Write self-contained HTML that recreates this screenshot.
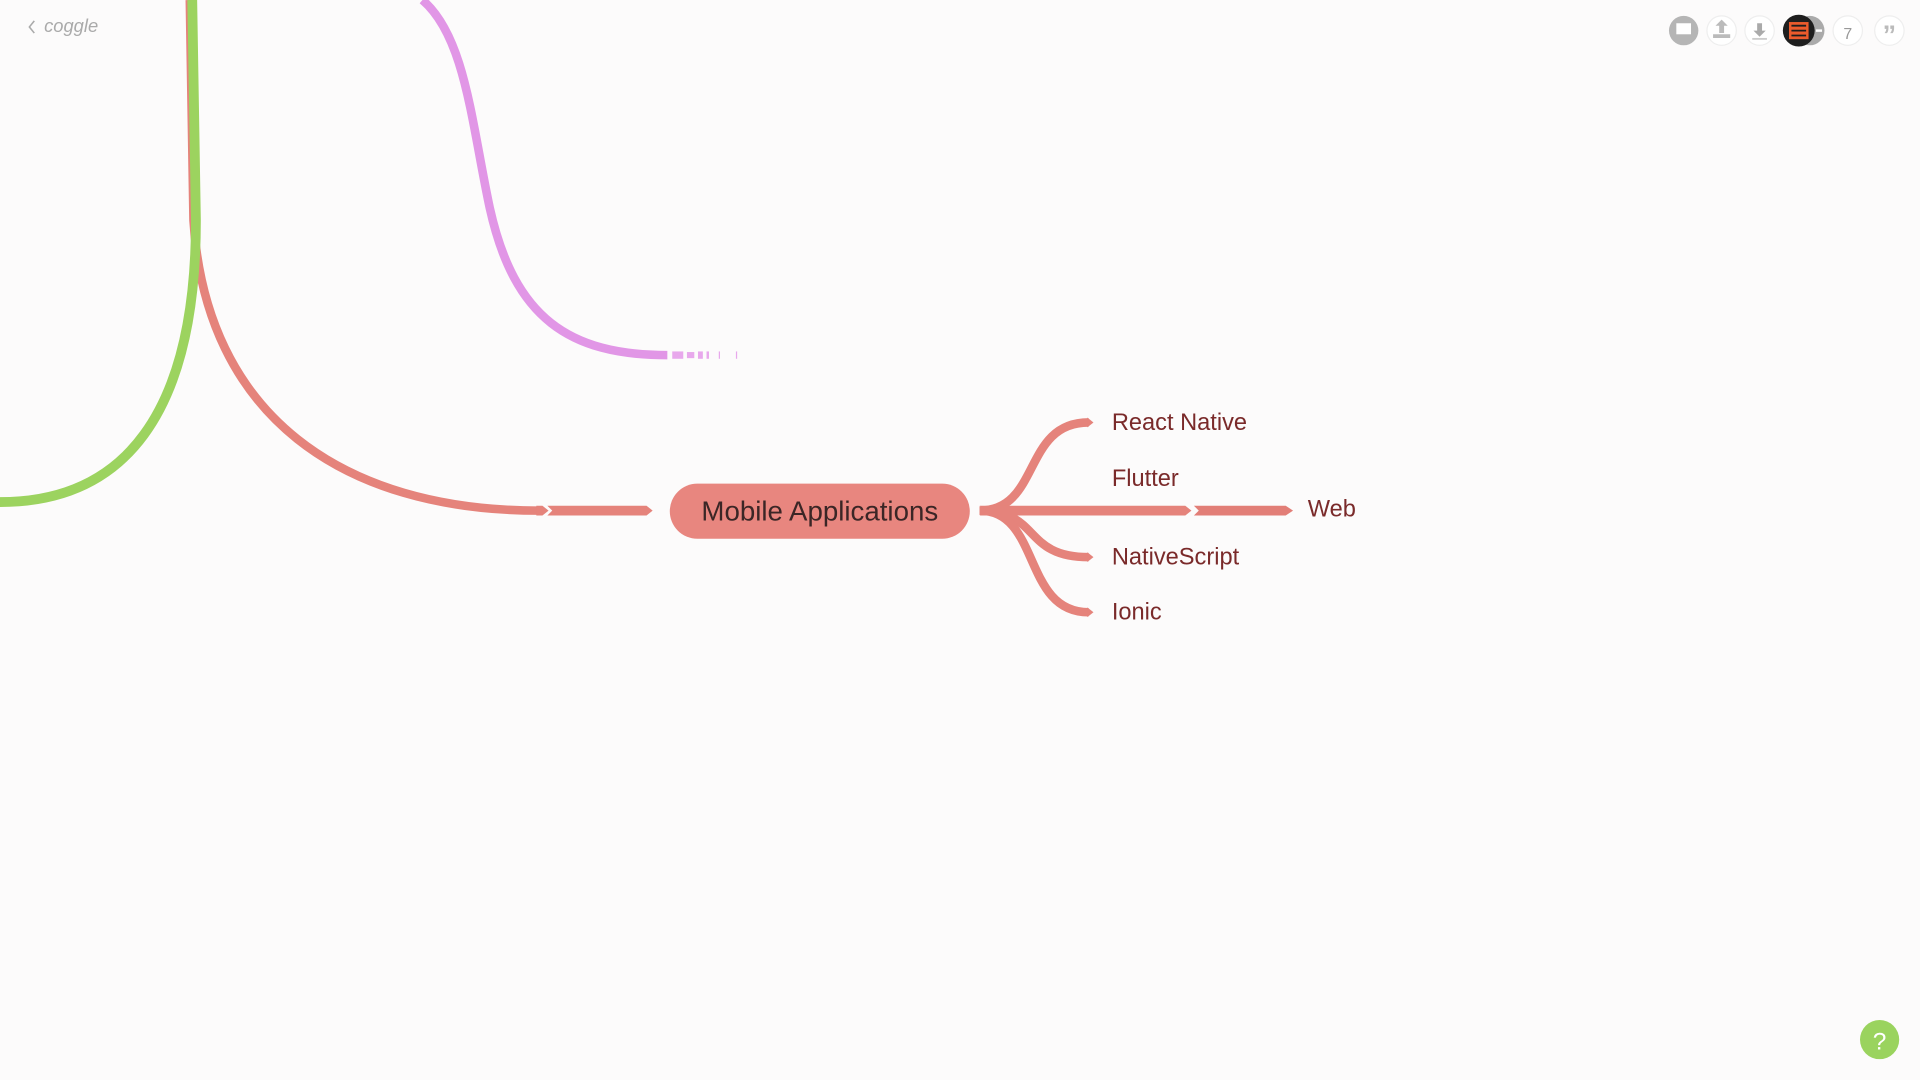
<!DOCTYPE html>
<html><head><meta charset="utf-8"><title>Coggle - Mobile Applications</title>
<style>
html,body{margin:0;padding:0;background:#fcfbfb;overflow:hidden}
svg{display:block}
text{font-family:"Liberation Sans",sans-serif}
</style></head>
<body>
<svg id="map" width="1920" height="1080" viewBox="0 0 1568 882" xmlns="http://www.w3.org/2000/svg">
<rect width="1568" height="882" fill="#fcfbfb"/>
<g>
<path d="M28,17 L24,22 L28,27" stroke="#aaa" stroke-width="1.3" fill="none"/>
<text x="36" y="26" font-size="15" font-style="italic" fill="#aaa">coggle</text>
</g>
<path d="M155,0 L158,180 C168,340 280,417 440,417" stroke="#e5837b" stroke-width="7" fill="none"/>
<path d="M157,0 L160,180 C160,340 100,410 0,410" stroke="#9cd35f" stroke-width="8" fill="none"/>
<path d="M345,0 C380,30 385,100 400,170 C420,260 465,290 545,290" stroke="#e196e6" stroke-width="7" fill="none"/>
<g stroke="#e8a8ec" stroke-width="6">
<line x1="549" y1="290" x2="558" y2="290"/><line x1="561" y1="290" x2="567" y2="290" stroke-width="5"/>
<line x1="570" y1="290" x2="574" y2="290"/><line x1="577" y1="290" x2="579" y2="290"/>
<line x1="587" y1="290" x2="588" y2="290"/><line x1="601" y1="290" x2="602" y2="290"/>
</g>
<polygon points="438,413 443,413 448,417 443,421 438,421" fill="#e5837b"/>
<polygon points="447,413 528,413 533,417 528,421 447,421 451,417" fill="#e5837b"/>
<g>
<rect x="547" y="395" width="245" height="45" rx="22.5" fill="#e8867f"/>
<text x="669.5" y="425" font-size="22.6" fill="#3b2626" text-anchor="middle">Mobile Applications</text>
</g>
<g id="children"></g>
<polygon points="800,413 968,413 973,417 968,421 800,421 806,417" fill="#e5837b"/>
<polygon points="975,413 1050,413 1056,417 1050,421 975,421 979,417" fill="#e27e77"/>
<text x="1068" y="422" font-size="19.3" fill="#7a2a2a">Web</text>
<text x="908" y="397" font-size="19.3" fill="#7a2a2a">Flutter</text>
<g>
<g><circle cx="1375" cy="25" r="12" fill="#b5b5b5"/><rect x="1369" y="19" width="12" height="9" fill="#fff"/></g>
<g><circle cx="1406" cy="25" r="12" fill="#fff" stroke="#eee"/><path d="M1406,16 l-5,5 h3 v6 h4 v-6 h3z M1399,28 v3 h14 v-3" fill="#bbb"/></g>
<g><circle cx="1437" cy="25" r="12" fill="#fff" stroke="#eee"/><path d="M1435,19 h4 v6 h3 l-5,5 l-5,-5 h3z" fill="#aaa"/><rect x="1431" y="31" width="12" height="1.5" fill="#ccc"/></g>
<g><circle cx="1478" cy="25" r="12" fill="#aaa"/><circle cx="1469" cy="25" r="13" fill="#1e1e1e"/><rect x="1461" y="18" width="16" height="14" fill="#ec5b2c"/><path d="M1463,21 h12 M1463,25 h12 M1463,29 h12" stroke="#1e1e1e" stroke-width="1.5"/><rect x="1483" y="24" width="5" height="2" fill="#fff"/></g>
<g><circle cx="1509" cy="25" r="12" fill="#fff" stroke="#eee"/><text x="1509" y="32" font-size="13" fill="#999" text-anchor="middle">7</text></g>
<g><circle cx="1543" cy="25" r="12" fill="#fff" stroke="#eee"/><text x="1543" y="36" font-size="22" font-weight="bold" fill="#bbb" text-anchor="middle">”</text></g>
</g>
<g>
<circle cx="1535" cy="849" r="16" fill="#9ad35e"/>
<text x="1535" y="857" font-size="20" fill="#fff" text-anchor="middle">?</text>
</g>
</svg>
<script>
const childLabels = ["React Native", "NativeScript", "Ionic"];
const childY = [345, 455, 500];
const originX = 800, originY = 417, tipX = 893;
const ns = "http://www.w3.org/2000/svg";
const g = document.getElementById("children");
childLabels.forEach(function(lbl, i){
  const y = childY[i];
  const p = document.createElementNS(ns, "path");
  p.setAttribute("d", "M" + originX + "," + originY + " C850," + originY + " 835," + y + " " + (tipX-4) + "," + y);
  p.setAttribute("stroke", "#e5837b");
  p.setAttribute("stroke-width", "7");
  p.setAttribute("fill", "none");
  
  
  g.appendChild(p);
  const a = document.createElementNS(ns, "polygon");
  a.setAttribute("points", (tipX-5) + "," + (y-4) + " " + tipX + "," + y + " " + (tipX-5) + "," + (y+4));
  a.setAttribute("fill", "#e5837b");
  
  
  g.appendChild(a);
  const t = document.createElementNS(ns, "text");
  t.setAttribute("x", 908);
  t.setAttribute("y", y + 6);
  t.setAttribute("font-size", "19.3");
  t.setAttribute("fill", "#7a2a2a");
  t.textContent = lbl;
  
  
  g.appendChild(t);
});
</script>
</body></html>
